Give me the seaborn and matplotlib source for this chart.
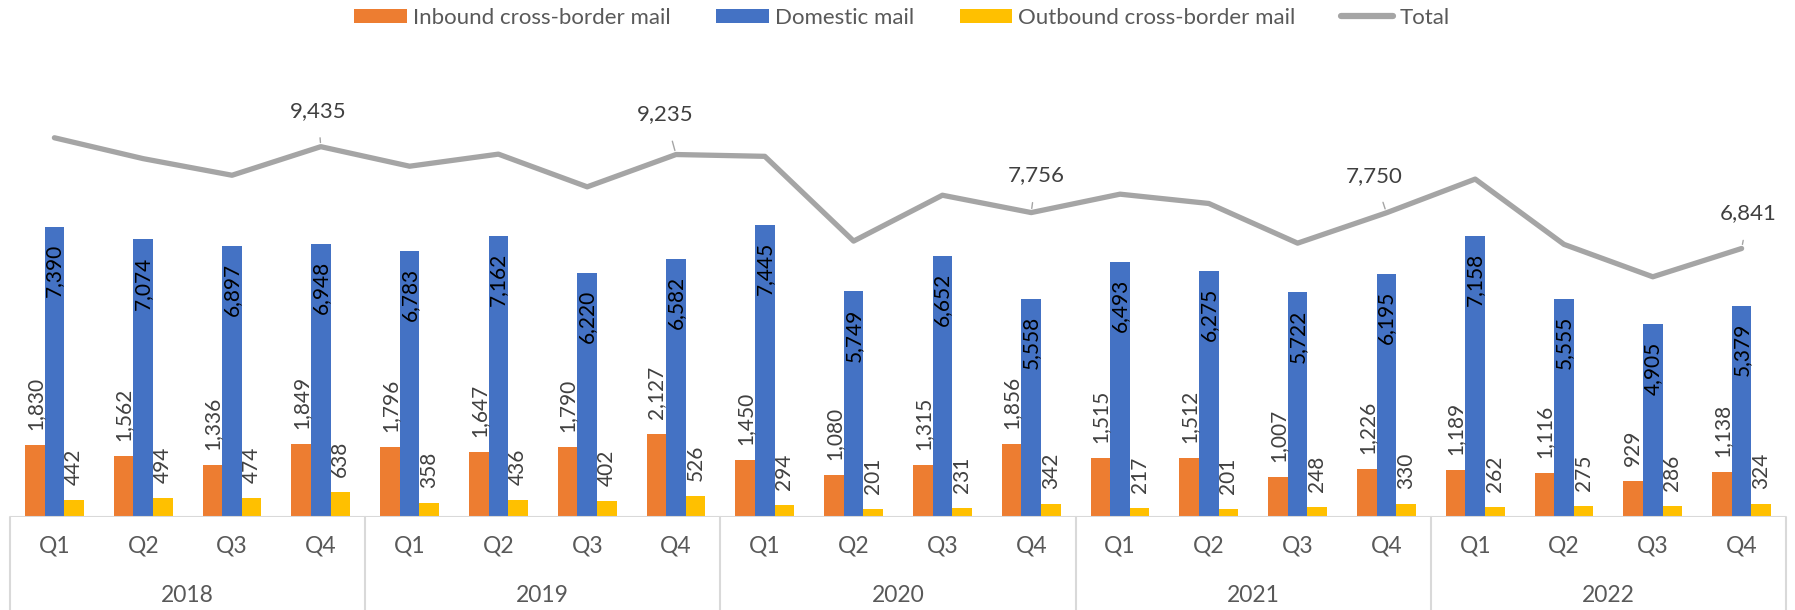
import numpy as np
import pandas as pd
import matplotlib
matplotlib.use("Agg")
import matplotlib.pyplot as plt
import matplotlib.transforms as mtransforms
from matplotlib.patches import Patch
from matplotlib.lines import Line2D
import seaborn as sns

# 数据
years = ["2018", "2019", "2020", "2021", "2022"]
quarters = ["Q1", "Q2", "Q3", "Q4"]
inbound = [1830, 1562, 1336, 1849, 1796, 1647, 1790, 2127, 1450, 1080,
           1315, 1856, 1515, 1512, 1007, 1226, 1189, 1116, 929, 1138]
domestic = [7390, 7074, 6897, 6948, 6783, 7162, 6220, 6582, 7445, 5749,
            6652, 5558, 6493, 6275, 5722, 6195, 7158, 5555, 4905, 5379]
outbound = [442, 494, 474, 638, 358, 436, 402, 526, 294, 201,
            231, 342, 217, 201, 248, 330, 262, 275, 286, 324]
total = [9662, 9130, 8707, 9435, 8937, 9245, 8412, 9235, 9189, 7030,
         8198, 7756, 8225, 7988, 6977, 7750, 8609, 6946, 6120, 6841]

series_names = ["Inbound cross-border mail", "Domestic mail", "Outbound cross-border mail"]
colors = ["#ED7D31", "#4472C4", "#FFC000"]
total_color = "#A5A5A5"

periods = [f"{y} {q}" for y in years for q in quarters]
df = pd.DataFrame({
    "period": periods * 3,
    "series": np.repeat(series_names, len(periods)),
    "value": inbound + domestic + outbound,
})

sns.set_style("white")
plt.rcParams["font.family"] = ["Lato", "DejaVu Sans"]
fs_bar = 15
fs = 16.5

fig = plt.figure(figsize=(17.95, 6.1), dpi=100)
ax = fig.add_axes([10 / 1795, 93 / 610, 1776 / 1795, 471 / 610])

sns.barplot(data=df, x="period", y="value", hue="series", order=periods,
            hue_order=series_names, palette=colors, saturation=1,
            width=0.66, gap=0, linewidth=0, legend=False, ax=ax)

x_pos = np.arange(len(periods))
sns.lineplot(x=x_pos, y=total, color=total_color, lw=3.8, ax=ax,
             solid_joinstyle="round", solid_capstyle="round")

ax.set_xlim(-0.5, len(periods) - 0.5)
ax.set_ylim(0, 12000)
ax.set_xlabel("")
ax.set_ylabel("")
ax.set_yticks([])
sns.despine(ax=ax, left=True, bottom=True)

# 柱子标签
for i, cont in enumerate(ax.containers):
    for bar in cont:
        h = bar.get_height()
        cx = bar.get_x() + bar.get_width() / 2
        if i == 1:
            ax.annotate(f"{int(round(h)):,}", xy=(cx, h), xytext=(0, -17),
                        textcoords="offset pixels", rotation=90, ha="center",
                        va="top", fontsize=fs_bar, color="black")
        else:
            ax.annotate(f"{int(round(h)):,}", xy=(cx, h), xytext=(0, 15),
                        textcoords="offset pixels", rotation=90, ha="center",
                        va="bottom", fontsize=fs_bar, color="#404040")

# 总计标签（仅Q4）
label_offsets = {3: (-3, 36), 7: (-11, 40), 11: (5, 37), 15: (-12, 37), 19: (7, 35)}
for idx, (dx, dy) in label_offsets.items():
    ax.annotate(f"{total[idx]:,}", xy=(x_pos[idx], total[idx]), xytext=(dx, dy),
                textcoords="offset pixels", ha="center", va="center",
                fontsize=16, color="#404040",
                arrowprops=dict(arrowstyle="-", color="#A5A5A5", lw=1,
                                shrinkA=10, shrinkB=3))

# x轴：季度与年份
ax.set_xticks(x_pos)
ax.set_xticklabels(quarters * len(years), fontsize=fs, color="#595959")
ax.tick_params(axis="x", length=0, pad=13)

trans = mtransforms.blended_transform_factory(ax.transData, ax.transAxes)
bottom = -93 / 471
for k, y in enumerate(years):
    ax.text(k * 4 + 1.5, -79 / 471, y, transform=trans, ha="center", va="center",
            fontsize=fs, color="#595959")
for k in range(len(years) + 1):
    ax.plot([k * 4 - 0.5, k * 4 - 0.5], [0, bottom], transform=trans,
            color="#D9D9D9", lw=1.5, clip_on=False)
ax.axhline(0, color="#D9D9D9", lw=1.5)

# 图例
handles = [Patch(facecolor=c, edgecolor="none") for c in colors]
handles.append(Line2D([0], [0], color=total_color, lw=4.5, solid_capstyle="round"))
leg = fig.legend(handles, series_names + ["Total"], loc="center",
                 bbox_to_anchor=(0.5025, 0.971), ncol=4, frameon=False,
                 fontsize=16, handlelength=2.35, handleheight=0.58,
                 handletextpad=0.27, columnspacing=2.07, borderpad=0)
for t in leg.get_texts():
    t.set_color("#595959")

fig.savefig("out.png", dpi=100)
